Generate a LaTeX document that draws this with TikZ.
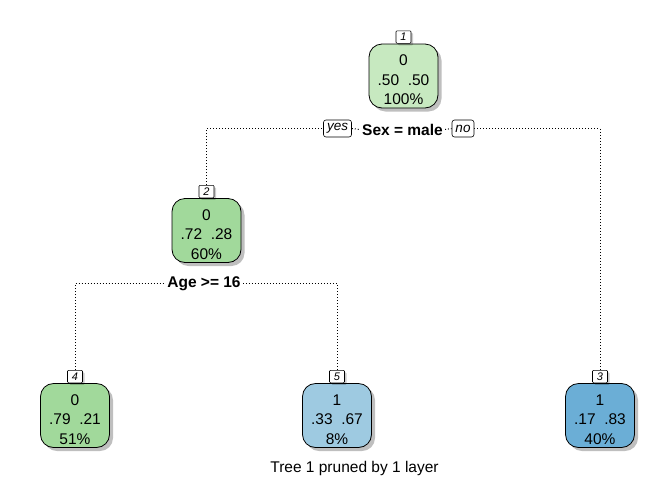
\documentclass[tikz,border=0pt]{standalone}
\usepackage{fontspec}
\setmainfont{Liberation Sans}
\usetikzlibrary{backgrounds,shadows}
\definecolor{cA}{HTML}{C7E9C0}
\definecolor{cB}{HTML}{A1D99B}
\definecolor{cC}{HTML}{9ECAE1}
\definecolor{cD}{HTML}{6BAED6}
\newcommand{\toppad}{\rule{0pt}{19pt}}
\begin{document}
\begin{tikzpicture}[x=1pt,y=-1pt,
  leaf/.style={draw=black, line width=0.8pt, rounded corners=13pt,
    minimum width=69pt, minimum height=64pt, inner sep=0pt, align=center,
    font=\fontsize{15.5}{19.5}\selectfont,
    drop shadow={shadow xshift=3.5pt, shadow yshift=-3.5pt, fill=black, opacity=0.25}},
  numbox/.style={draw=black, fill=white, line width=0.6pt, rounded corners=1pt,
    minimum width=15pt, minimum height=12.5pt, inner sep=0pt, anchor=south,
    font=\fontsize{11}{11}\selectfont\itshape,
    drop shadow={shadow xshift=2pt, shadow yshift=-2pt, fill=black, opacity=0.2}},
  yn/.style={draw=black, fill=white, line width=0.6pt, rounded corners=2.5pt,
    minimum height=17pt, inner xsep=3.5pt, inner ysep=0pt,
    font=\fontsize{13.5}{13.5}\selectfont\itshape},
  split/.style={fill=white, inner xsep=2pt, inner ysep=1pt,
    font=\fontsize{15.5}{15.5}\selectfont\bfseries},
  dotline/.style={line width=1pt, dash pattern=on 1pt off 2pt}
]
\useasboundingbox (0,0) rectangle (672,480);

% main boxes
\node[leaf, fill=cA] (n1) at (403.5,76) {\toppad 0\\.50\ \ .50\\100\%};
\node[leaf, fill=cB] (n2) at (206.5,230.5) {\toppad 0\\.72\ \ .28\\60\%};
\node[leaf, fill=cB] (n4) at (75,415.5) {\toppad 0\\.79\ \ .21\\51\%};
\node[leaf, fill=cC] (n5) at (337,415.5) {\toppad 1\\.33\ \ .67\\8\%};
\node[leaf, fill=cD] (n3) at (600,415.5) {\toppad 1\\.17\ \ .83\\40\%};

% number labels
\node[numbox] (l1) at (n1.north) {1};
\node[numbox] (l2) at (n2.north) {2};
\node[numbox] (l4) at (n4.north) {4};
\node[numbox] (l5) at (n5.north) {5};
\node[numbox] (l3) at (n3.north) {3};

% split labels
\node[yn] (yes) at (337.5,128.5) {yes};
\node[split] (s1) at (402.5,129.5) {Sex = male};
\node[yn] (no) at (463,128.5) {no};
\node[split] (s2) at (204,283.5) {Age >= 16};

% caption
\node[font=\fontsize{15.5}{15.5}\selectfont] (cap) at (354.5,468) {Tree 1 pruned by 1 layer};

% connectors
\begin{scope}[on background layer]
\draw[dotline] (l2.north) |- (yes.west);
\draw[dotline] (yes.east) -- (s1.west);
\draw[dotline] (s1.east) -- (no.west);
\draw[dotline] (no.east) -| (l3.north);
\draw[dotline] (l4.north) |- (s2.west);
\draw[dotline] (s2.east) -| (l5.north);
\end{scope}
\end{tikzpicture}
\end{document}
